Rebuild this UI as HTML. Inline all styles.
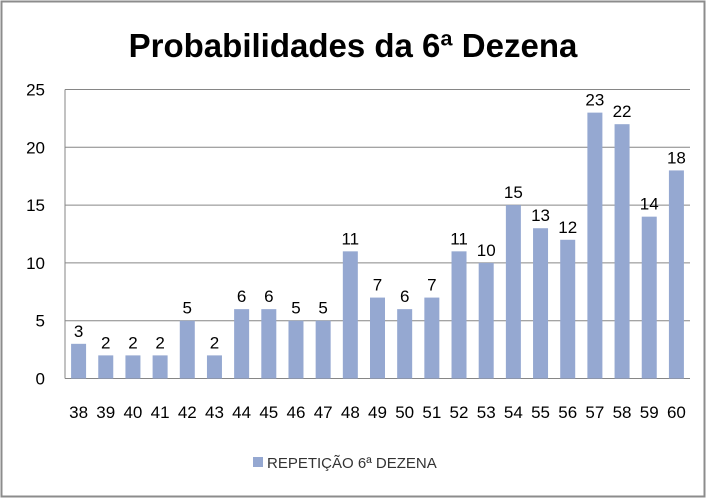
<!DOCTYPE html>
<html><head><meta charset="utf-8"><style>
body{margin:0;background:#fff;}
svg{display:block;font-family:"Liberation Sans","DejaVu Sans",sans-serif;}
</style></head><body>
<svg id="chart" width="706" height="498">
<rect x="1.5" y="1.5" width="703" height="495" fill="#fff" stroke="#8c8c8c" stroke-width="2"/>
<text x="353" y="57" text-anchor="middle" font-size="33" font-weight="bold" fill="#000">Probabilidades da 6ª Dezena</text>
<g id="grid"></g><g id="bars"></g><g id="labels"></g>
<rect x="253" y="457" width="10" height="10" fill="#95a8d1"/>
<text x="267" y="468" font-size="15" fill="#333">REPETIÇÃO 6ª DEZENA</text>
</svg>
<script>
const categories=["38","39","40","41","42","43","44","45","46","47","48","49","50","51","52","53","54","55","56","57","58","59","60"];
const values=[3,2,2,2,5,2,6,6,5,5,11,7,6,7,11,10,15,13,12,23,22,14,18];
const ticks=[0,5,10,15,20,25];
const NS="http://www.w3.org/2000/svg";
const L=65,R=690,T=89.5,B=378.5,maxV=25;
const y=v=>B-(B-T)*v/maxV;
const bw=(R-L)/categories.length;
const x=i=>L+bw*i+bw/2;
function mk(tag,attrs,parent,text){const e=document.createElementNS(NS,tag);for(const k in attrs)e.setAttribute(k,attrs[k]);if(text!==undefined)e.textContent=text;document.getElementById(parent).appendChild(e);return e;}
ticks.forEach(t=>{
 const l=mk('line',{x1:L,x2:R,y1:y(t),y2:y(t),stroke:'#868686','stroke-width':1},'grid');
 
 
 const tx=mk('text',{x:45,y:y(t)+6,'text-anchor':'end','font-size':17,fill:'#000'},'grid',t);
 
 
});
const ax=mk('line',{x1:L,x2:L,y1:T,y2:B,stroke:'#868686'},'grid');


categories.forEach((c,i)=>{
 const v=values[i];
 const r=mk('rect',{x:x(i)-7.5,y:y(v),width:15,height:B-y(v),fill:'#95a8d1'},'bars');
 
 
 const vl=mk('text',{x:x(i),y:y(v)-7,'text-anchor':'middle','font-size':17,fill:'#000'},'labels',v);
 
 
 const cl=mk('text',{x:x(i),y:418,'text-anchor':'middle','font-size':17,fill:'#000'},'labels',c);
 
 
});
</script>
</body></html>
